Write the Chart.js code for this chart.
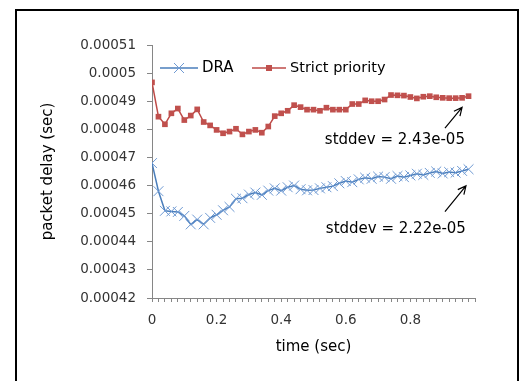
<!DOCTYPE html>
<html>
<head>
<meta charset="utf-8">
<script src="https://cdn.jsdelivr.net/npm/chart.js@4"></script>
<style>
    body { margin: 0; background: #fff; }
    #wrap { width: 528px; height: 381px; position: relative; }
</style>
</head>
<body>
<div id="wrap"><canvas id="myChart"></canvas></div>
<script>
const times = [
    0, 0.02, 0.04, 0.06, 0.08, 0.1, 0.12, 0.14, 0.16, 0.18,
    0.2, 0.22, 0.24, 0.26, 0.28, 0.3, 0.32, 0.34, 0.36, 0.38,
    0.4, 0.42, 0.44, 0.46, 0.48, 0.5, 0.52, 0.54, 0.56, 0.58,
    0.6, 0.62, 0.64, 0.66, 0.68, 0.7, 0.72, 0.74, 0.76, 0.78,
    0.8, 0.82, 0.84, 0.86, 0.88, 0.9, 0.92, 0.94, 0.96, 0.98
];
const draDelay = [
    0.000468, 0.000458, 0.000451, 0.0004508, 0.0004506, 0.0004492, 0.0004462, 0.0004479, 0.0004462, 0.0004485,
    0.0004496, 0.0004512, 0.0004524, 0.0004553, 0.0004555, 0.0004568, 0.0004575, 0.0004567, 0.0004582, 0.000459,
    0.0004582, 0.0004594, 0.00046, 0.0004587, 0.0004583, 0.0004584, 0.000459, 0.0004594, 0.0004598, 0.0004608,
    0.0004616, 0.0004612, 0.0004622, 0.0004628, 0.0004624, 0.0004632, 0.000463, 0.0004624, 0.0004634, 0.000463,
    0.0004636, 0.0004642, 0.0004638, 0.0004645, 0.000465, 0.0004643, 0.0004648, 0.0004646, 0.0004652, 0.0004658
];
const strictDelay = [
    0.0004967, 0.0004845, 0.0004818, 0.0004857, 0.0004874, 0.0004833, 0.0004849, 0.0004871, 0.0004826, 0.0004814,
    0.0004798, 0.0004786, 0.0004792, 0.0004802, 0.0004782, 0.0004792, 0.0004798, 0.0004788, 0.000481, 0.0004847,
    0.0004857, 0.0004866, 0.0004886, 0.0004879, 0.000487, 0.000487, 0.0004866, 0.0004877, 0.000487, 0.000487,
    0.000487, 0.000489, 0.000489, 0.0004903, 0.00049, 0.00049, 0.0004906, 0.0004922, 0.0004921, 0.000492,
    0.0004915, 0.000491, 0.0004916, 0.0004918, 0.0004914, 0.0004912, 0.0004911, 0.0004911, 0.0004912, 0.0004918
];
const seriesNames = ['DRA', 'Strict priority'];
const stddevNotes = ['stddev = 2.22e-05', 'stddev = 2.43e-05'];

const FONT = 'DejaVu Sans';
const blue = '#4A7EBB';
const red = '#BE4B48';

const toPoints = (vals) => vals.map((v, i) => ({ x: times[i], y: v }));

// frame, legend and the two stddev notes
const decorations = {
    id: 'decorations',
    beforeDraw(chart) {
        const c = chart.ctx;
        c.save();
        c.fillStyle = '#fff';
        c.fillRect(0, 0, chart.width, chart.height);
        c.restore();
    },
    afterDraw(chart) {
        const c = chart.ctx;
        const area = chart.chartArea;
        const xs = chart.scales.x;
        const ys = chart.scales.y;
        c.save();

        // outer frame
        c.strokeStyle = '#000';
        c.lineWidth = 2;
        c.beginPath();
        c.moveTo(16, 390);
        c.lineTo(16, 10);
        c.lineTo(518, 10);
        c.lineTo(518, 390);
        c.stroke();

        // legend
        const ly = area.top + 23;
        c.lineWidth = 1.5;
        c.strokeStyle = blue;
        c.beginPath();
        c.moveTo(area.left + 8, ly);
        c.lineTo(area.left + 46, ly);
        c.stroke();
        c.lineWidth = 1;
        c.strokeStyle = '#6F9AD3';
        c.beginPath();
        c.moveTo(area.left + 22, ly - 5);
        c.lineTo(area.left + 32, ly + 5);
        c.moveTo(area.left + 22, ly + 5);
        c.lineTo(area.left + 32, ly - 5);
        c.stroke();

        c.lineWidth = 1.5;
        c.strokeStyle = red;
        c.beginPath();
        c.moveTo(area.left + 100, ly);
        c.lineTo(area.left + 134, ly);
        c.stroke();
        c.fillStyle = '#C0504D';
        c.fillRect(area.left + 114, ly - 3, 6, 6);

        c.fillStyle = '#000';
        c.font = '15px "' + FONT + '"';
        c.textBaseline = 'middle';
        c.textAlign = 'left';
        c.fillText(seriesNames[0], area.left + 50, ly);
        c.font = '14.5px "' + FONT + '"';
        c.fillText(seriesNames[1], area.left + 138, ly);

        // stddev notes with arrows
        c.font = '15px "' + FONT + '"';
        c.textAlign = 'center';
        c.fillText(stddevNotes[1], xs.getPixelForValue(0.752), ys.getPixelForValue(0.0004761));
        c.fillText(stddevNotes[0], xs.getPixelForValue(0.755), ys.getPixelForValue(0.0004444));

        const arrow = (x0, y0, x1, y1) => {
            const a = Math.atan2(y1 - y0, x1 - x0);
            c.beginPath();
            c.moveTo(x0, y0);
            c.lineTo(x1, y1);
            c.moveTo(x1 - 9 * Math.cos(a - 0.45), y1 - 9 * Math.sin(a - 0.45));
            c.lineTo(x1, y1);
            c.lineTo(x1 - 9 * Math.cos(a + 0.45), y1 - 9 * Math.sin(a + 0.45));
            c.stroke();
        };
        c.strokeStyle = '#000';
        c.lineWidth = 1.2;
        arrow(xs.getPixelForValue(0.907), ys.getPixelForValue(0.0004804),
              xs.getPixelForValue(0.96), ys.getPixelForValue(0.0004878));
        arrow(xs.getPixelForValue(0.907), ys.getPixelForValue(0.0004507),
              xs.getPixelForValue(0.972), ys.getPixelForValue(0.0004599));
        c.restore();
    }
};

let ctx = document.getElementById('myChart').getContext('2d');

new Chart(ctx, {
    type: 'line',
    data: {
        datasets: [{
            label: seriesNames[0],
            data: toPoints(draDelay),
            borderColor: blue,
            borderWidth: 1.5,
            pointStyle: 'crossRot',
            pointRadius: 7,
            pointBorderWidth: 1,
            pointBorderColor: '#6F9AD3',
            pointBackgroundColor: '#6F9AD3',
            tension: 0
        }, {
            label: seriesNames[1],
            data: toPoints(strictDelay),
            borderColor: red,
            borderWidth: 1.5,
            pointStyle: 'rect',
            pointRadius: 4,
            pointBorderWidth: 0,
            pointBackgroundColor: '#C0504D',
            tension: 0
        }]
    },
    options: {
        responsive: true,
        maintainAspectRatio: false,
        animation: false,
        layout: { padding: { top: 45, right: 53, left: 0, bottom: 0 } },
        plugins: {
            legend: { display: false },
            tooltip: { enabled: false }
        },
        scales: {
            x: {
                type: 'linear',
                min: 0,
                max: 1,
                afterFit: (scale) => { scale.height = 83; },
                border: { color: '#868686', width: 1 },
                grid: { drawOnChartArea: false, tickLength: 4, color: '#868686' },
                ticks: {
                    stepSize: 0.02,
                    autoSkip: false,
                    maxRotation: 0,
                    padding: 10,
                    color: '#333',
                    font: { family: FONT, size: 13.5 },
                    callback: (v) => {
                        const k = Math.round(v * 50);
                        return (k % 10 === 0 && k < 50) ? String(Math.round(v * 10) / 10) : '';
                    }
                },
                title: {
                    display: true,
                    text: 'time (sec)',
                    color: '#000',
                    font: { family: FONT, size: 15 },
                    padding: { top: 0, bottom: 25 }
                }
            },
            y: {
                min: 0.00042,
                max: 0.00051,
                afterFit: (scale) => { scale.width = 152; },
                border: { color: '#868686', width: 1 },
                grid: { drawOnChartArea: false, tickLength: 5, color: '#868686' },
                ticks: {
                    stepSize: 0.00001,
                    padding: 11,
                    color: '#333',
                    font: { family: FONT, size: 13.5 },
                    callback: (v) => String(Number(v.toFixed(5)))
                },
                title: {
                    display: true,
                    text: 'packet delay (sec)',
                    color: '#000',
                    font: { family: FONT, size: 15 },
                    padding: { top: 39, bottom: 0 }
                }
            }
        }
    },
    plugins: [decorations]
});
</script>
</body>
</html>
